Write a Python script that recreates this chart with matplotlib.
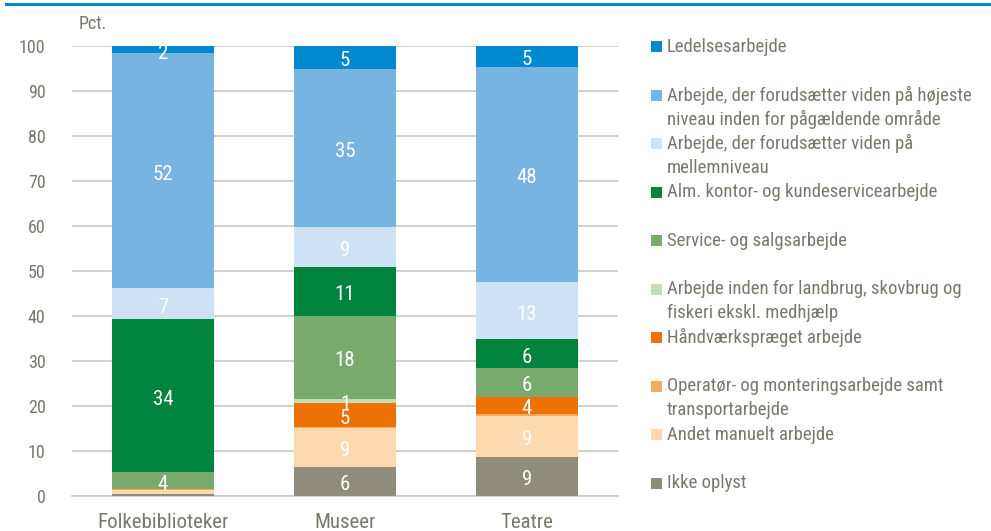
import matplotlib
matplotlib.use("Agg")
import matplotlib.pyplot as plt
from matplotlib import font_manager
from matplotlib.patches import Rectangle
import numpy as np

# ---------------- data ----------------
categories = ["Folkebiblioteker", "Museer", "Teatre"]

series_names = [
    "Ikke oplyst",
    "Andet manuelt arbejde",
    "Operatør- og monteringsarbejde samt\ntransportarbejde",
    "Håndværkspræget arbejde",
    "Arbejde inden for landbrug, skovbrug og\nfiskeri ekskl. medhjælp",
    "Service- og salgsarbejde",
    "Alm. kontor- og kundeservicearbejde",
    "Arbejde, der forudsætter viden på\nmellemniveau",
    "Arbejde, der forudsætter viden på højeste\nniveau inden for pågældende område",
    "Ledelsesarbejde",
]

ikke_oplyst   = [0.4, 6.5, 8.7]
andet_manuelt = [0.9, 8.7, 9.1]
operatoer     = [0.2, 0.2, 0.4]
haandvaerk    = [0.0, 5.2, 3.9]
landbrug      = [0.0, 1.0, 0.0]
service       = [3.8, 18.5, 6.4]
alm_kontor    = [34.0, 10.9, 6.3]
mellemniveau  = [6.9, 8.8, 12.8]
hoejeste      = [52.2, 35.2, 47.8]
ledelse       = [1.6, 5.0, 4.6]

series_values = [ikke_oplyst, andet_manuelt, operatoer, haandvaerk, landbrug,
                 service, alm_kontor, mellemniveau, hoejeste, ledelse]

colors = ["#8f8c7c", "#fdd9b0", "#f6a95f", "#ee7203", "#c5dcb8",
          "#78aa6e", "#00843d", "#cfe2f5", "#78b4e1", "#0089cf"]

y_ticks = [0, 10, 20, 30, 40, 50, 60, 70, 80, 90, 100]

# ---------------- fonts ----------------
available = {f.name for f in font_manager.fontManager.ttflist}
font = None
for cand in ["Liberation Sans Narrow", "Arial Narrow", "DejaVu Sans Condensed",
             "Roboto Condensed", "Liberation Sans"]:
    if cand in available:
        font = cand
        break
if font is None:
    font = "DejaVu Sans"
plt.rcParams["font.family"] = [font, "DejaVu Sans"]

text_col = "#7a786c"
grid_col = "#cbc9c0"

W, H = 991, 531
fig = plt.figure(figsize=(W / 100, H / 100), dpi=100)

def fx(px):
    return px / W

def fy(py):
    return 1 - py / H

ax = fig.add_axes([fx(72), fy(496), fx(618) - fx(72), fy(46) - fy(496)])

x = np.arange(len(categories))
bw = 0.555
bottom = np.zeros(len(categories))
for vals, col in zip(series_values, colors):
    vals = np.array(vals, dtype=float)
    ax.bar(x, vals, bw, bottom=bottom, color=col, linewidth=0, zorder=3)
    for xi, v, b in zip(x, vals, bottom):
        if v >= 1.0:
            ax.annotate(f"{int(round(v))}", (xi, b + v / 2), xytext=(0, -2.5),
                        textcoords="offset points", ha="center", va="center",
                        color="white", fontsize=15, zorder=4)
    bottom += vals

ax.set_xlim(-0.5, len(categories) - 0.5)
ax.set_ylim(0, 100)
ax.set_yticks(y_ticks)
ax.set_yticklabels([str(t) for t in y_ticks])
ax.yaxis.grid(True, color=grid_col, linewidth=1.2, zorder=0)
ax.set_axisbelow(True)
ax.set_xticks(x)
ax.set_xticklabels(categories)
for s in ["top", "right", "left"]:
    ax.spines[s].set_visible(False)
ax.spines["bottom"].set_color(grid_col)
ax.spines["bottom"].set_linewidth(1.2)
ax.tick_params(axis="y", length=0, pad=19, labelsize=13, labelcolor=text_col)
ax.tick_params(axis="x", length=0, pad=12, labelsize=15, labelcolor=text_col)

# Pct. label
fig.text(fx(79), fy(24), "Pct.", ha="left", va="center", fontsize=13, color=text_col)

# top blue rule
fig.add_artist(plt.Line2D([fx(6), 1.0], [fy(4), fy(4)], color="#0089cf", linewidth=2.2))

# legend (top item first)
legend_order = list(range(len(series_names)))[::-1]
for i, idx in enumerate(legend_order):
    yc = 46.5 + 48.5 * i
    fig.add_artist(Rectangle((fx(651), fy(yc + 5.5)), fx(11), fy(0) - fy(11),
                             transform=fig.transFigure, color=colors[idx], linewidth=0))
    for k, line in enumerate(series_names[idx].split("\n")):
        fig.text(fx(667), fy(yc + 24 * k), line, ha="left", va="center",
                 fontsize=13.5, color=text_col)

fig.savefig("out.png", dpi=100)
